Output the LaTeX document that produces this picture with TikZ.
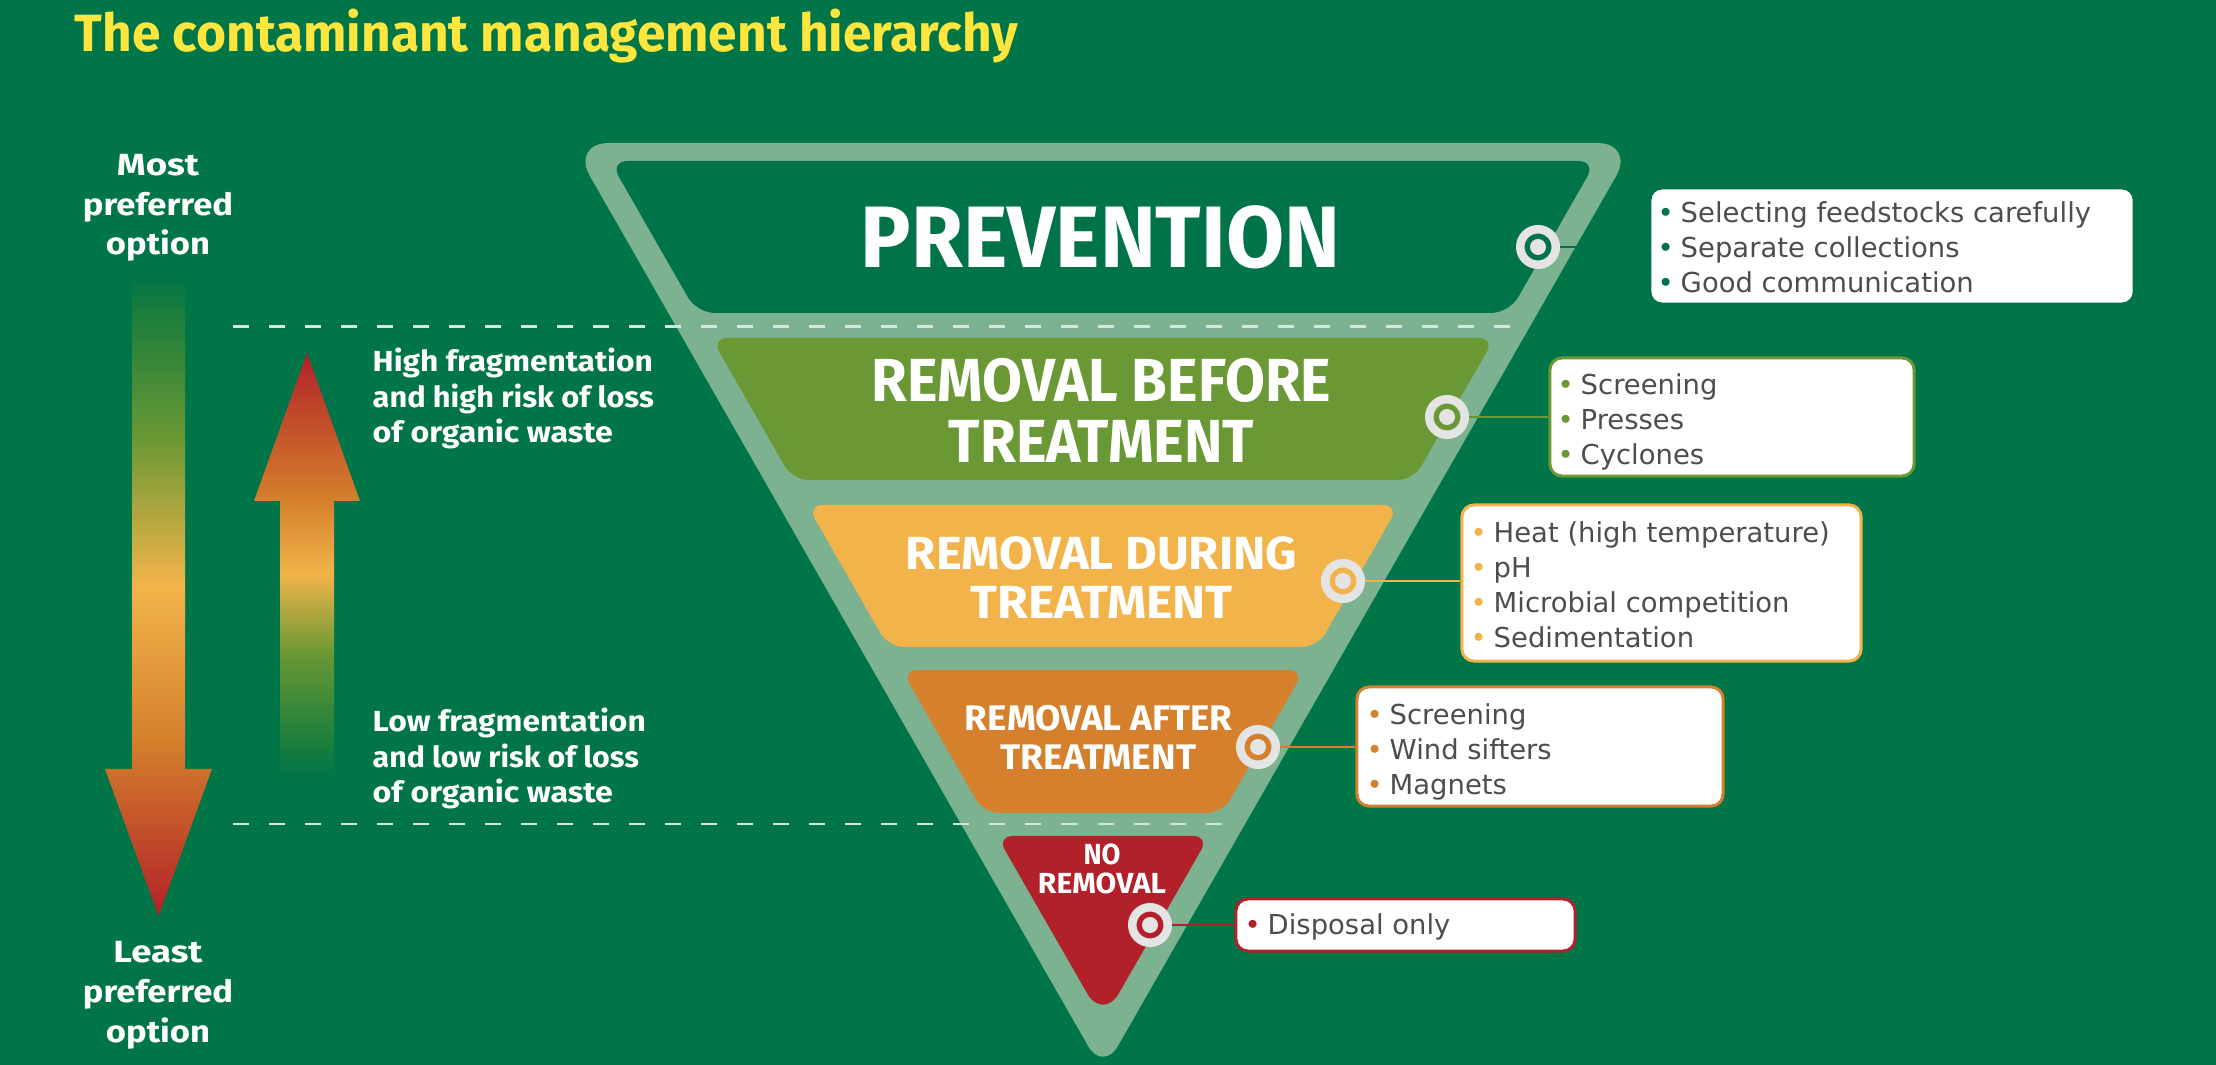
\documentclass[tikz,border=0pt]{standalone}
\usepackage{fontspec}
\usepackage{graphicx}
\setmainfont{Fira Sans}
\newfontfamily\hfont{Fira Sans}
\newfontfamily\bfont{DejaVu Sans}
\definecolor{bg}{RGB}{0,117,72}
\definecolor{funnel}{RGB}{124,178,143}
\definecolor{c1}{RGB}{0,115,72}
\definecolor{c2}{RGB}{106,152,52}
\definecolor{c3}{RGB}{242,180,74}
\definecolor{c4}{RGB}{212,128,44}
\definecolor{c5}{RGB}{178,33,41}
\definecolor{gr1}{RGB}{25,125,60}
\definecolor{ringgray}{RGB}{228,228,228}
\definecolor{txtgray}{RGB}{77,77,77}
\definecolor{titleyellow}{RGB}{254,230,62}
\definecolor{dashcol}{RGB}{215,230,220}
\pgfdeclareverticalshading{downgrad}{100bp}{color(0bp)=(c5); color(25bp)=(c5); color(38.75bp)=(c4); color(50.9bp)=(c3); color(62.3bp)=(c2); color(72.3bp)=(gr1); color(75bp)=(bg); color(100bp)=(bg)}
\pgfdeclareverticalshading{upgrad}{100bp}{color(0bp)=(bg); color(25bp)=(bg); color(28.7bp)=(gr1); color(39.5bp)=(c2); color(48.9bp)=(c3); color(57.6bp)=(c4); color(75bp)=(c5); color(100bp)=(c5)}
\newcommand{\fw}[2]{\resizebox{#1cm}{\height}{#2}}
\newcommand{\bul}[1]{\makebox[0.23cm][l]{\textcolor{#1}{•}}}
\begin{document}
\begin{tikzpicture}[x=0.01cm,y=-0.01cm,
  hlabel/.style={text=white, inner sep=0, anchor=base, align=center},
  boxtext/.style={font=\bfont\fontsize{7.8}{9.96}\selectfont, text=txtgray, inner sep=0, anchor=base west, align=left},
  infobox/.style={draw=#1, line width=0.85pt, fill=white, rounded corners=0.12cm, inner sep=0},
  target/.style={circle, inner sep=0, minimum size=0.355cm, draw=ringgray, line width=0.085cm, fill=#1,
    path picture={\fill[ringgray] (path picture bounding box.center) circle (0.08cm);}},
  conn/.style={draw=#1, line width=0.6pt},
  dashline/.style={draw=dashcol, line width=0.85pt, dash pattern=on 0.16cm off 0.2cm},
]
\useasboundingbox (0,0) rectangle (2216,1065);
\fill[bg] (0,0) rectangle (2216,1065);

% title
\node[hlabel, text=titleyellow, anchor=base west, font=\hfont\bfseries\fontsize{14.9}{18}\selectfont] (title) at (74,52) {\fw{9.43}{The contaminant management hierarchy}};

% funnel
\fill[funnel, rounded corners=0.38cm] (571,143) -- (1635,143) [rounded corners=0.3cm] -- (1103,1072) [rounded corners=0.38cm] -- cycle;
\fill[c1, rounded corners=0.18cm] (609.8,161) -- (1596.2,161) -- (1509.1,313) -- (696.9,313) -- cycle;
\fill[c2, rounded corners=0.16cm] (711.3,338) -- (1494.7,338) -- (1413.3,480) -- (792.7,480) -- cycle;
\fill[c3, rounded corners=0.16cm] (807,505) -- (1399,505) -- (1317.5,647) -- (888.5,647) -- cycle;
\fill[c4, rounded corners=0.16cm] (901.6,670) -- (1304.4,670) -- (1222.4,813) -- (983.6,813) -- cycle;
\fill[c5, rounded corners=0.16cm] (996.8,836) -- (1209.2,836) [rounded corners=0.32cm] -- (1103,1021) [rounded corners=0.16cm] -- cycle;

% dashed lines
\coordinate (d1a) at (233,327);
\coordinate (d1b) at (1527,327);
\coordinate (d2a) at (233,824);
\coordinate (d2b) at (1237,824);
\draw[dashline] (d1a) -- (d1b);
\draw[dashline] (d2a) -- (d2b);

% gradient arrows
\shade[shading=downgrad] (132,276) -- (185,276) -- (185,769) -- (212,769) -- (158.5,916) -- (105,769) -- (132,769) -- cycle;
\shade[shading=upgrad] (307,353) -- (360,501) -- (334,501) -- (334,776) -- (280,776) -- (280,501) -- (254,501) -- cycle;

% left labels (anchored at the baseline of the last line)
\node[hlabel, font=\hfont\bfseries\fontsize{8.7}{11.3}\selectfont] (most) at (158,255) {\fw{0.82}{Most}\\\fw{1.50}{preferred}\\\fw{1.04}{option}};
\node[hlabel, font=\hfont\bfseries\fontsize{8.7}{11.24}\selectfont] (least) at (158,1042) {\fw{0.89}{Least}\\\fw{1.50}{preferred}\\\fw{1.04}{option}};
\node[hlabel, anchor=base west, align=left, font=\hfont\bfseries\fontsize{8.26}{10.1}\selectfont] (high) at (372,443) {\fw{2.80}{High fragmentation}\\\fw{2.81}{and high risk of loss}\\\fw{2.40}{of organic waste}};
\node[hlabel, anchor=base west, align=left, font=\hfont\bfseries\fontsize{8.26}{10.1}\selectfont] (low) at (372,803) {\fw{2.73}{Low fragmentation}\\\fw{2.66}{and low risk of loss}\\\fw{2.40}{of organic waste}};

% band labels
\node[hlabel, font=\hfont\bfseries\fontsize{24.8}{24.8}\selectfont] (lprev) at (1100.5,268) {\fw{4.79}{PREVENTION}};
\node[hlabel, font=\hfont\bfseries\fontsize{17.3}{17.36}\selectfont] (lbefore) at (1101.5,463) {\fw{4.59}{REMOVAL BEFORE}\\\fw{3.05}{TREATMENT}};
\node[hlabel, font=\hfont\bfseries\fontsize{13.2}{14.2}\selectfont] (lduring) at (1101.5,619) {\fw{3.91}{REMOVAL DURING}\\\fw{2.62}{TREATMENT}};
\node[hlabel, font=\hfont\bfseries\fontsize{10.1}{11.1}\selectfont] (lafter) at (1098.5,770) {\fw{2.67}{REMOVAL AFTER}\\\fw{1.95}{TREATMENT}};
\node[hlabel, font=\hfont\bfseries\fontsize{8.26}{7.97}\selectfont] (lno) at (1102,893) {\fw{0.37}{NO}\\\fw{1.28}{REMOVAL}};

% info boxes
\node[infobox=c1, minimum width=4.84cm, minimum height=1.16cm] (b1) at (1892,246) {};
\node[infobox=c2, minimum width=3.64cm, minimum height=1.18cm] (b2) at (1732,417) {};
\node[infobox=c3, minimum width=3.99cm, minimum height=1.56cm] (b3) at (1661.5,583) {};
\node[infobox=c4, minimum width=3.66cm, minimum height=1.19cm] (b4) at (1540,746.5) {};
\node[infobox=c5, minimum width=3.39cm, minimum height=0.52cm] (b5) at (1405.5,925) {};

\node[boxtext] (t1) at (1657,293) {\bul{c1}Selecting feedstocks carefully\\\bul{c1}Separate collections\\\bul{c1}Good communication};
\node[boxtext] (t2) at (1557,465) {\bul{c2}Screening\\\bul{c2}Presses\\\bul{c2}Cyclones};
\node[boxtext] (t3) at (1470,648) {\bul{c3}Heat (high temperature)\\\bul{c3}pH\\\bul{c3}Microbial competition\\\bul{c3}Sedimentation};
\node[boxtext] (t4) at (1366,795) {\bul{c4}Screening\\\bul{c4}Wind sifters\\\bul{c4}Magnets};
\node[boxtext] (t5) at (1244,935) {\bul{c5}Disposal only};

% targets
\node[target=c1] (p1) at (1538,247) {};
\node[target=c2] (p2) at (1447,417) {};
\node[target=c3] (p3) at (1343,581) {};
\node[target=c4] (p4) at (1258,747) {};
\node[target=c5] (p5) at (1150,925) {};

% connectors
\draw[conn=c1] (p1.east) -- (p1 -| b1.west);
\draw[conn=c2] (p2.east) -- (p2 -| b2.west);
\draw[conn=c3] (p3.east) -- (p3 -| b3.west);
\draw[conn=c4] (p4.east) -- (p4 -| b4.west);
\draw[conn=c5] (p5.east) -- (p5 -| b5.west);
\end{tikzpicture}
\end{document}
